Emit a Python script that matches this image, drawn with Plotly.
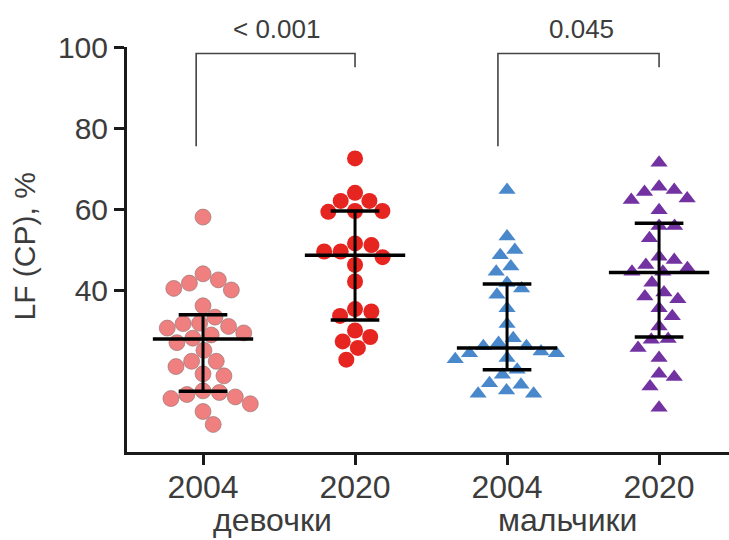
import math
import plotly.graph_objects as go

# ---------------- data ----------------
tick_labels = ["2004", "2020", "2004", "2020"]
group_labels = ["девочки", "мальчики"]
p_values = ["< 0.001", "0.045"]

girls_2004 = [58.0, 44.0, 41.7, 42.5, 40.4, 40.0, 36.1, 33.3, 31.7, 31.8, 31.0, 28.9,
              30.6, 29.4, 27.0, 28.1, 25.1, 22.4, 22.4, 21.1, 18.8, 19.3, 15.1, 14.2,
              13.2, 11.9, 10.0, 13.6, 14.7, 6.8]
girls_2020 = [72.5, 64.0, 62.0, 62.0, 59.3, 59.5, 59.5, 51.5, 51.1, 49.5, 49.5, 48.1,
              46.2, 42.1, 35.3, 34.7, 33.6, 30.0, 27.3, 28.4, 25.7, 22.8]
boys_2004 = [64.7, 53.2, 49.9, 48.6, 45.8, 44.5, 41.7, 40.4, 38.8, 35.5, 31.6, 28.1,
             26.1, 24.8, 24.4, 24.4, 26.1, 26.9, 23.2, 22.9, 20.3, 19.1, 17.0, 15.2,
             14.4, 14.4, 16.6]
boys_2020 = [71.4, 64.7, 65.5, 64.2, 62.6, 62.2, 59.7, 55.8, 55.8, 52.8, 47.4, 48.2,
             46.2, 45.4, 44.5, 44.5, 41.8, 39.4, 37.7, 38.4, 35.5, 33.5, 31.0, 27.7,
             27.9, 25.7, 23.2, 18.5, 19.3, 16.2, 10.9]

medians = [27.9, 48.6, 25.7, 44.3]
q1 = [15.0, 32.6, 20.3, 28.4]
q3 = [33.9, 59.5, 41.5, 56.5]

groups = [girls_2004, girls_2020, boys_2004, boys_2020]
colors = ["#F08080", "#E62420", "#4A88CC", "#7232A2"]
symbols = ["circle", "circle", "triangle-up", "triangle-up"]
sizes = [16, 16, 15, 15]

# ---------------- layout geometry ----------------
W, H = 729, 540
ML, MT, MR, MB = 127, 46.5, 0, 87.5
XR = [0.5, 4.46]
YR = [0, 100]
PW, PH = W - ML - MR, H - MT - MB
px_x = PW / (XR[1] - XR[0])
px_y = PH / (YR[1] - YR[0])


def swarm(vals, diam):
    """simple beeswarm: offsets (data units) so markers do not overlap"""
    order = sorted(range(len(vals)), key=lambda i: -vals[i])
    placed = []
    offs = [0.0] * len(vals)
    for i in order:
        y = vals[i] * px_y
        cands = [0.0]
        for (xj, yj) in placed:
            dy = abs(y - yj)
            if dy < diam:
                dx = math.sqrt(diam ** 2 - dy ** 2)
                cands += [xj + dx, xj - dx]
        cands.sort(key=abs)
        for c in cands:
            if all((c - xj) ** 2 + (y - yj) ** 2 >= diam ** 2 - 1e-6 for xj, yj in placed):
                break
        placed.append((c, y))
        offs[i] = c / px_x
    return offs


fig = go.Figure()
for k, vals in enumerate(groups):
    offs = swarm(vals, sizes[k] + 0.5)
    fig.add_trace(go.Scatter(
        x=[k + 1 + o for o in offs], y=vals, mode="markers",
        marker=dict(color=colors[k], symbol=symbols[k], size=sizes[k],
                    line=dict(width=1 if k == 0 else 0, color="rgba(140,110,110,0.6)")),
        showlegend=False, cliponaxis=False, hoverinfo="y"))

shapes = []
for k in range(4):
    c = k + 1
    shapes.append(dict(type="line", xref="x", yref="y", x0=c - 0.33, x1=c + 0.33,
                       y0=medians[k], y1=medians[k], line=dict(color="black", width=3.5)))
    shapes.append(dict(type="line", xref="x", yref="y", x0=c - 0.16, x1=c + 0.16,
                       y0=q1[k], y1=q1[k], line=dict(color="black", width=3.5)))
    shapes.append(dict(type="line", xref="x", yref="y", x0=c - 0.16, x1=c + 0.16,
                       y0=q3[k], y1=q3[k], line=dict(color="black", width=3.5)))
    shapes.append(dict(type="line", xref="x", yref="y", x0=c, x1=c,
                       y0=q1[k], y1=q3[k], line=dict(color="black", width=3)))

# significance brackets
brackets = [(0.955, 2.0, 75.5, 95.0), (2.94, 4.0, 75.5, 95.0)]
for (xa, xb, ya, yb) in brackets:
    shapes.append(dict(type="path", xref="x", yref="y",
                       path=f"M {xa},{ya} L {xa},98.4 L {xb},98.4 L {xb},{yb}",
                       line=dict(color="#444444", width=1.6)))

font_family = "Liberation Sans, Arial, sans-serif"
txt_color = "#3c3c3c"
p_y = (H - MB - 28.6) / PH
lab_y = (H - MB - 521) / PH
annotations = [
    dict(x=1.485, y=p_y, xref="x", yref="paper", text=p_values[0], showarrow=False,
         yanchor="middle", font=dict(size=26, color=txt_color, family=font_family)),
    dict(x=3.49, y=p_y, xref="x", yref="paper", text=p_values[1], showarrow=False,
         yanchor="middle", font=dict(size=26, color=txt_color, family=font_family)),
    dict(x=1.455, y=lab_y, xref="x", yref="paper", text=group_labels[0],
         showarrow=False, yanchor="middle",
         font=dict(size=32, color=txt_color, family=font_family)),
    dict(x=3.40, y=lab_y, xref="x", yref="paper", text=group_labels[1],
         showarrow=False, yanchor="middle",
         font=dict(size=32, color=txt_color, family=font_family)),
    dict(x=(25 - ML) / PW, y=(H - MB - 246.5) / PH, xref="paper", yref="paper",
         text="LF (CP), %", textangle=-90, showarrow=False,
         xanchor="center", yanchor="middle",
         font=dict(size=30, color=txt_color, family=font_family)),
]

fig.update_layout(
    width=W, height=H, margin=dict(l=ML, r=MR, t=MT, b=MB),
    plot_bgcolor="white", paper_bgcolor="white",
    shapes=shapes, annotations=annotations,
    font=dict(family=font_family, color=txt_color),
    xaxis=dict(range=XR, tickvals=[1, 2, 3, 4], ticktext=tick_labels,
               showgrid=False, zeroline=False, showline=True, linecolor="#1a1a1a",
               linewidth=3, ticks="outside", ticklen=10, tickwidth=3,
               tickcolor="#1a1a1a", ticklabelstandoff=-5,
               tickfont=dict(size=32, color=txt_color)),
    yaxis=dict(range=YR, tickvals=[40, 60, 80, 100], showgrid=False, zeroline=False,
               showline=True, linecolor="#1a1a1a", linewidth=3, ticks="outside",
               ticklen=10, tickwidth=3, tickcolor="#1a1a1a",
               tickfont=dict(size=30, color=txt_color)),
)

fig.write_html("out.html")
